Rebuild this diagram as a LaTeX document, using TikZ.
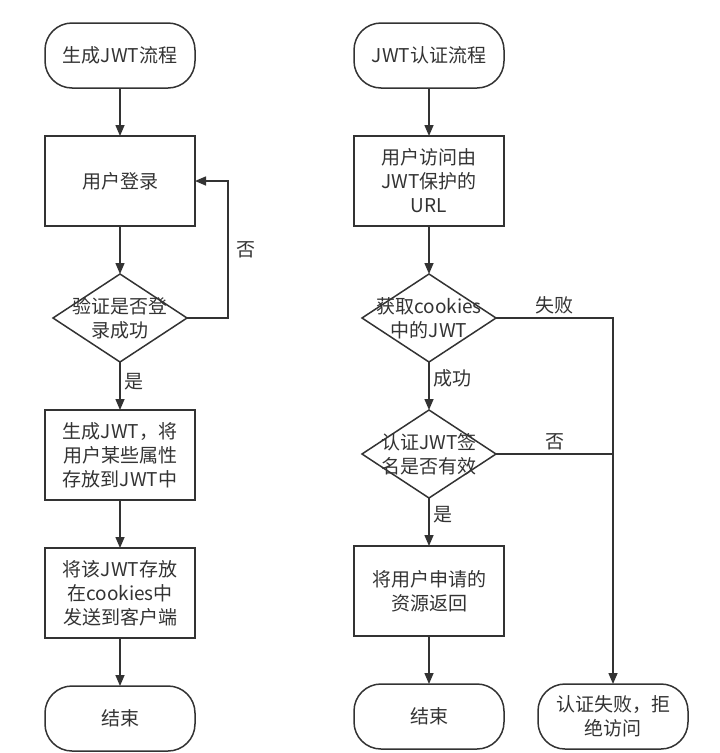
\documentclass[tikz,border=0pt]{standalone}
\usepackage{fontspec}
\setmainfont{Noto Sans CJK SC}
\usetikzlibrary{arrows.meta,chains,positioning,shapes.geometric}
\definecolor{linegray}{HTML}{333333}

\begin{document}
\begin{tikzpicture}[
  font=\fontsize{19pt}{24pt}\selectfont,
  text=linegray,
  line width=1.5pt,
  node distance = 48pt,
Term/.style={draw=linegray, rounded corners=27pt, minimum width=150pt,
             minimum height=65pt, outer sep=0pt, align=center},
Proc/.style={draw=linegray, minimum width=150pt, minimum height=90pt,
             outer sep=0pt, align=center, on chain},
Check/.style={draw=linegray, diamond, minimum width=134pt, minimum height=88pt,
              inner sep=0pt, outer sep=0pt, on chain},
Flow/.style={draw=linegray, -{Triangle[length=11pt,width=9pt]}},
Link/.style={draw=linegray},
  ]
\useasboundingbox (0,0) rectangle (720pt,-753pt);

% left column
\begin{scope}[start chain=gen going below]
\node [Term, on chain] (genstart) at (120pt,-55.5pt) {生成JWT流程};
\node [Proc] (login) {用户登录};
\node [Check, label={[align=center]center:验证是否登\\录成功}] (check) {};
\node [Proc] (make) {生成JWT，将\\用户某些属性\\存放到JWT中};
\node [Proc] (send) {将该JWT存放\\在cookies中\\发送到客户端};
\node [Term, on chain] (genend) {结束};
\end{scope}

\draw [Flow] (genstart) -- (login);
\draw [Flow] (login) -- (check);
\draw [Flow] (check) -- node[right, pos=0.4] {是} (make);
\draw [Flow] (make) -- (send);
\draw [Flow] (send) -- (genend);
\draw [Flow] (check.east) -- ++(41pt,0) |- node[pos=0.25, right=4pt] {否} (login.east);

% right column
\begin{scope}[start chain=auth going below]
\node [Term, on chain] (authstart) at (429pt,-55.5pt) {JWT认证流程};
\node [Proc] (visit) {用户访问由\\JWT保护的\\URL};
\node [Check, label={[align=center]center:获取cookies\\中的JWT}] (cookie) {};
\node [Check, label={[align=center]center:认证JWT签\\名是否有效}] (sign) {};
\node [Proc] (reply) {将用户申请的\\资源返回};
\node [Term, on chain] (authend) {结束};
\end{scope}
\node [Term, right=34pt of authend] (fail) {认证失败，拒\\绝访问};

\draw [Flow] (authstart) -- (visit);
\draw [Flow] (visit) -- (cookie);
\draw [Flow] (cookie) -- node[right, pos=0.35] {成功} (sign);
\draw [Flow] (sign) -- node[right, pos=0.35] {是} (reply);
\draw [Flow] (reply) -- (authend);
\draw [Flow] (cookie.east) -| node[pos=0.25, above] {失败} (fail.north);
\draw [Link] (sign.east) -- node[above] {否} (sign.east -| fail.north);
\end{tikzpicture}
\end{document}
